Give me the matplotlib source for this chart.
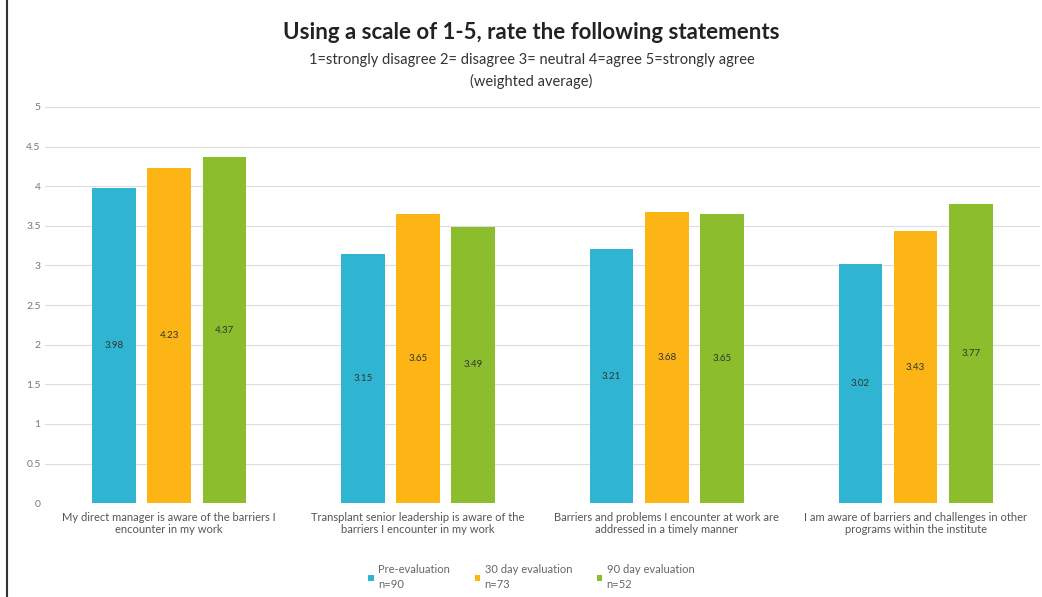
import numpy as np
import matplotlib.pyplot as plt

plt.rcParams['font.family'] = ['Lato', 'DejaVu Sans']

statements = ['My direct manager is aware of the barriers I\nencounter in my work',
              'Transplant senior leadership is aware of the\nbarriers I encounter in my work',
              'Barriers and problems I encounter at work are\naddressed in a timely manner',
              'I am aware of barriers and challenges in other\nprograms within the institute']
pre_eval = [3.98, 3.15, 3.21, 3.02]
day30_eval = [4.23, 3.65, 3.68, 3.43]
day90_eval = [4.37, 3.49, 3.65, 3.77]
series_labels = ['Pre-evaluation\nn=90', '30 day evaluation\nn=73', '90 day evaluation\nn=52']
colors = ['#2fb5d2', '#fdb515', '#8cbd2c']

width = 0.175
step = 0.222

fig = plt.figure(figsize=(10.42, 5.97), dpi=100)
ax = fig.add_axes([0.043, 0.157, 0.955, 0.664])

x = np.arange(len(statements))
for i, (vals, lab, col) in enumerate(zip([pre_eval, day30_eval, day90_eval], series_labels, colors)):
    bars = ax.bar(x + (i - 1) * step, vals, width, color=col, label=lab, zorder=3)
    for b, v in zip(bars, vals):
        ax.text(b.get_x() + b.get_width() / 2, v / 2, f'{v:.2f}', ha='center', va='center',
                fontsize=7, color='#333333', zorder=4)

ax.set_xlim(-0.5, 3.5)
ax.set_ylim(0, 5)
ax.set_yticks(np.arange(0, 5.01, 0.5))
ax.set_yticklabels(['0', '0.5', '1', '1.5', '2', '2.5', '3', '3.5', '4', '4.5', '5'])
ax.set_xticks(x)
ax.set_xticklabels(statements, fontsize=8, color='#555555')
ax.tick_params(axis='y', labelsize=7.5, labelcolor='#777777', length=0, pad=3)
ax.tick_params(axis='x', length=0, pad=6)
ax.grid(axis='y', color='#dddddd', linewidth=0.8, zorder=0)
for s in ax.spines.values():
    s.set_visible(False)

fig.text(0.51, 0.945, 'Using a scale of 1-5, rate the following statements',
         ha='center', va='center', fontsize=16, fontweight='bold', color='#222222')
fig.text(0.51, 0.900, '1=strongly disagree 2= disagree 3= neutral 4=agree 5=strongly agree',
         ha='center', va='center', fontsize=10.5, color='#333333')
fig.text(0.51, 0.864, '(weighted average)', ha='center', va='center', fontsize=10.5, color='#333333')

leg = fig.legend(loc='center', bbox_to_anchor=(0.51, 0.033), ncol=3, frameon=False,
                 fontsize=8, handlelength=0.5, handleheight=0.5, columnspacing=2.2,
                 handletextpad=0.4)
for t in leg.get_texts():
    t.set_color('#666666')
    t.set_linespacing(1.4)

# dark frame line on the left edge
fig.add_artist(plt.Line2D([0.007, 0.007], [0, 1], color='#333333', linewidth=1.5))

fig.savefig('out.png', dpi=100)
